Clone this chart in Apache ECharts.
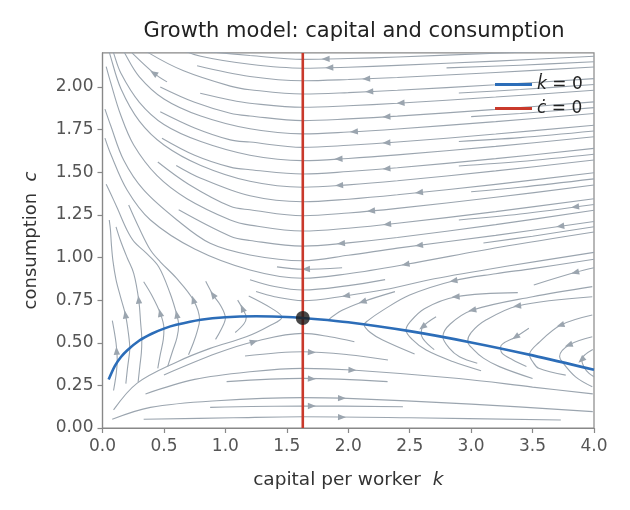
<!DOCTYPE html>
<html>
<head>
<meta charset="utf-8">
<script src="https://cdn.jsdelivr.net/npm/echarts@6/dist/echarts.min.js"></script>
<style>html,body{margin:0;padding:0;background:#fff;}#c{width:630px;height:510px;}</style>
</head>
<body>
<div id="c"></div>
<script>
// ---- tick labels ----
const xTicks = [0, 0.5, 1.0, 1.5, 2.0, 2.5, 3.0, 3.5, 4.0];
const yTicks = [0, 0.25, 0.5, 0.75, 1.0, 1.25, 1.5, 1.75, 2.0];

// ---- k-dot = 0 locus ----
const kdotK = [0.05,0.1,0.15,0.2,0.3,0.4,0.5,0.6,0.8,1.0,1.25,1.5,1.75,2.0,2.5,3.0,3.5,4.0];
const kdotC = [0.284,0.363,0.416,0.455,0.513,0.553,0.583,0.605,0.635,0.65,0.655,0.651,0.638,0.62,0.568,0.502,0.426,0.341];

// ---- c-dot = 0 locus and steady state ----
const kStar = 1.63;
const cStar = 0.645;
const cdotRange = [0, 2.2];

// ---- streamlines (k, c), in flow order ----
const upperLines = [
 [[4,2.222],[3.2,2.198],[2.4,2.176],[2.0,2.167],[1.63,2.162],[1.2,2.185],[0.82,2.21]],
 [[4,2.18],[3.2,2.152],[2.4,2.127],[2.0,2.116],[1.63,2.11],[1.2,2.133],[0.8,2.18],[0.6,2.23]],
 [[4,2.117],[3.2,2.085],[2.4,2.056],[2.0,2.044],[1.63,2.037],[1.2,2.062],[0.77,2.125]],
 [[4,2.049],[3.2,2.013],[2.4,1.981],[2.0,1.967],[1.63,1.959],[1.2,1.984],[1.04,2.005],[0.66,2.095],[0.376,2.2],[0.3,2.25]],
 [[4,1.981],[3.2,1.941],[2.4,1.905],[2.0,1.89],[1.63,1.881],[1.2,1.905],[1.04,1.924],[0.795,1.963]],
 [[4,1.913],[3.2,1.869],[2.4,1.829],[2.0,1.813],[1.63,1.803],[1.2,1.83],[1.04,1.846],[0.75,1.91],[0.47,2.0]],
 [[4,1.845],[3.2,1.797],[2.4,1.754],[2.0,1.736],[1.63,1.725],[1.2,1.755],[0.8,1.83],[0.5,1.93],[0.3,2.06],[0.18,2.2],[0.14,2.26]],
 [[4,1.776],[3.2,1.724],[2.4,1.677],[2.0,1.658],[1.63,1.646],[1.2,1.677],[1.04,1.69],[0.75,1.76],[0.47,1.855]],
 [[4,1.708],[3.2,1.652],[2.4,1.602],[2.0,1.581],[1.63,1.568],[1.2,1.6],[0.8,1.68],[0.5,1.78],[0.3,1.91],[0.15,2.08],[0.09,2.2],[0.07,2.25]],
 [[4,1.64],[3.2,1.58],[2.4,1.526],[2.0,1.504],[1.63,1.49],[1.2,1.515],[1.04,1.53],[0.75,1.6],[0.484,1.7]],
 [[4,1.572],[3.2,1.508],[2.4,1.45],[2.0,1.426],[1.63,1.412],[1.2,1.447],[0.8,1.54],[0.5,1.66],[0.3,1.8],[0.15,1.99],[0.065,2.18],[0.04,2.25]],
 [[4,1.497],[3.2,1.429],[2.4,1.368],[2.0,1.342],[1.63,1.327],[1.2,1.362],[0.8,1.465],[0.6,1.54]],
 [[4,1.425],[3.2,1.353],[2.4,1.288],[2.0,1.261],[1.63,1.245],[1.2,1.28],[1.04,1.30],[0.7,1.43],[0.45,1.56]],
 [[4,1.345],[3.2,1.269],[2.4,1.201],[2.0,1.172],[1.63,1.155],[1.2,1.19],[1.04,1.22],[0.687,1.345],[0.444,1.48],[0.254,1.66],[0.146,1.84],[0.065,2.03],[0.03,2.12]],
 [[4,1.277],[3.2,1.193],[2.4,1.117],[2.0,1.086],[1.63,1.067],[1.2,1.10],[1.04,1.125],[0.62,1.28]],
 [[4,1.211],[3.2,1.13],[2.4,1.055],[2.0,1.013],[1.63,0.981],[1.2,1.015],[0.876,1.083],[0.606,1.22],[0.335,1.396],[0.173,1.57],[0.065,1.777],[0.02,1.87]],
 [[1.95,0.94],[1.63,0.931],[1.42,0.945]],
 [[4,1.15],[3.23,1.06],[2.47,0.96],[2.0,0.905],[1.63,0.878],[1.2,0.927],[0.75,1.05],[0.39,1.22],[0.2,1.396],[0.065,1.61],[0.02,1.7]],
 [[2.3,0.87],[2.0,0.835],[1.63,0.809],[1.4,0.83],[1.2,0.87]],
 [[4,1.03],[3.3,0.95],[2.7,0.875],[2.3,0.812],[1.985,0.776],[1.63,0.747],[1.4,0.77],[1.25,0.80]]
];
const rightLines = [
 [[4,2.148],[3.4,2.128],[2.8,2.112]],
 [[4,2.015],[3.4,1.985],[2.9,1.965]],
 [[4,1.879],[3.4,1.845],[3.0,1.826]],
 [[4,1.742],[3.4,1.703],[2.9,1.68]],
 [[4,1.606],[3.4,1.563],[2.9,1.537]],
 [[4,1.461],[3.4,1.412],[3.0,1.386]],
 [[4,1.311],[3.4,1.255],[2.9,1.22]],
 [[4,1.18],[3.5,1.125],[3.1,1.085]],
 [[4,0.94],[3.85,0.913],[3.51,0.839]]
];
const saddleLines = [
 [[2.38,0.80],[2.12,0.741],[1.95,0.69],[1.84,0.636]],
 [[4,0.99],[3.5,0.935],[3.2,0.905],[2.86,0.864],[2.5,0.78],[2.28,0.69],[2.16,0.63],[2.13,0.606],[2.18,0.56],[2.28,0.516],[2.54,0.434]],
 [[3.38,0.794],[2.878,0.77],[2.62,0.70],[2.5,0.62],[2.47,0.575],[2.52,0.52],[2.634,0.457],[2.85,0.39],[3.081,0.336]],
 [[2.715,0.653],[2.607,0.594],[2.594,0.55],[2.70,0.46]],
 [[3.986,0.829],[3.5,0.77],[3.013,0.692],[2.83,0.61],[2.77,0.535],[2.82,0.47],[2.905,0.418],[3.05,0.38]],
 [[3.986,0.77],[3.378,0.716],[3.12,0.633],[3.0,0.56],[2.972,0.508],[3.02,0.46],[3.1,0.41],[3.23,0.36],[3.5,0.29]],
 [[3.47,0.585],[3.365,0.535],[3.24,0.475],[3.25,0.44],[3.337,0.40],[3.45,0.36]],
 [[3.986,0.663],[3.73,0.604],[3.55,0.5],[3.475,0.43],[3.5,0.39],[3.55,0.35],[3.77,0.31]],
 [[3.986,0.535],[3.797,0.487],[3.72,0.42],[3.74,0.389],[3.85,0.30],[3.986,0.242]],
 [[3.99,0.46],[3.9,0.40],[3.92,0.355],[3.96,0.32],[4.0,0.30]]
];
const lowerLines = [
 [[0.5,0.311],[0.93,0.438],[1.23,0.506],[1.63,0.555],[1.85,0.535],[2.05,0.506]],
 [[1.16,0.422],[1.63,0.447],[2.0,0.43],[2.323,0.399]],
 [[0.35,0.20],[0.75,0.285],[1.2,0.33],[1.63,0.35],[2.03,0.34],[2.9,0.29],[3.5,0.24],[3.99,0.20]],
 [[1.01,0.272],[1.63,0.291],[2.32,0.272]],
 [[0.079,0.051],[0.39,0.121],[0.93,0.16],[1.63,0.178],[1.945,0.175],[3.0,0.14],[3.99,0.096]],
 [[0.876,0.121],[1.63,0.129],[2.445,0.125]],
 [[0.335,0.051],[1.065,0.06],[1.63,0.066],[2.5,0.06],[3.73,0.047]]
];
const leftLines = [
 [[0.09,0.22],[0.112,0.32],[0.12,0.40],[0.11,0.50],[0.08,0.63]],
 [[0.19,0.26],[0.205,0.36],[0.218,0.43],[0.222,0.466],[0.21,0.56],[0.187,0.663],[0.146,0.77],[0.11,0.87],[0.085,0.98],[0.072,1.08],[0.065,1.16],[0.055,1.22]],
 [[0.29,0.27],[0.305,0.37],[0.316,0.44],[0.32,0.515],[0.31,0.62],[0.295,0.75],[0.254,0.907],[0.2,1.0],[0.146,1.10],[0.11,1.18]],
 [[0.45,0.35],[0.47,0.43],[0.495,0.52],[0.50,0.583],[0.47,0.673],[0.40,0.78],[0.335,0.858]],
 [[0.53,0.36],[0.57,0.45],[0.606,0.53],[0.62,0.605],[0.605,0.663],[0.55,0.79],[0.457,0.946],[0.35,1.03],[0.26,1.09],[0.2,1.16],[0.12,1.29],[0.065,1.377],[0.03,1.43]],
 [[0.70,0.43],[0.74,0.50],[0.77,0.565],[0.79,0.634],[0.74,0.75],[0.6,0.88],[0.47,0.975],[0.39,1.044],[0.3,1.17],[0.213,1.308]],
 [[0.92,0.52],[0.96,0.57],[1.0,0.645],[0.96,0.72],[0.90,0.78],[0.84,0.86]],
 [[1.08,0.56],[1.15,0.61],[1.17,0.648],[1.14,0.70],[1.10,0.75]],
 [[0.09,0.106],[0.28,0.262],[0.61,0.389],[0.876,0.467],[1.17,0.535],[1.36,0.60],[1.46,0.65],[1.38,0.70],[1.19,0.774]],
 [[0.525,2.03],[0.42,2.08],[0.24,2.2]]
];
// arrowheads: [group, line index, k, c]
const arrowMarks = [
 ['U',0,1.82,2.164],['U',1,1.85,2.113],['U',2,2.15,2.046],['U',3,2.175,1.972],['U',4,2.43,1.906],
 ['U',5,2.315,1.826],['U',6,2.05,1.738],['U',7,2.315,1.672],['U',8,1.925,1.578],['U',9,2.315,1.522],
 ['U',10,1.93,1.422],['U',11,2.58,1.38],['U',12,2.19,1.27],['U',13,2.32,1.197],['U',14,1.945,1.083],
 ['U',15,2.58,1.07],['U',15,3.73,1.18],['U',16,1.66,0.931],['U',17,2.47,0.96],['U',19,1.985,0.776],
 ['R',6,3.85,1.297],['R',8,3.85,0.913],
 ['V',0,2.12,0.741],['V',1,2.86,0.864],['V',2,2.878,0.77],['V',3,2.607,0.594],['V',4,3.013,0.692],
 ['V',5,3.378,0.716],['V',6,3.365,0.535],['V',7,3.73,0.604],['V',8,3.797,0.487],['V',9,3.9,0.40],
 ['B',0,1.228,0.506],['B',1,1.70,0.447],['B',2,2.03,0.34],['B',3,1.70,0.291],['B',4,1.945,0.177],
 ['B',5,1.70,0.129],['B',6,1.945,0.066],
 ['L',0,0.115,0.45],['L',1,0.187,0.663],['L',2,0.295,0.75],['L',3,0.47,0.673],['L',4,0.605,0.663],
 ['L',5,0.74,0.75],['L',6,0.90,0.78],['L',7,1.14,0.70],['L',9,0.42,2.08]
];

// ---- build ----
const GRAY = '#9ba5af', BLUE = '#2c6db8', RED = '#c9392b', AX = '#888888', TXT = '#555555';
const FONT = 'DejaVu Sans';
const allLines = [].concat(upperLines, rightLines, saddleLines, lowerLines, leftLines);
const offs = {U:0};
offs.R = offs.U + upperLines.length;
offs.V = offs.R + rightLines.length;
offs.B = offs.V + saddleLines.length;
offs.L = offs.B + lowerLines.length;

const streamSeries = allLines.map(pts => ({
  type:'line', data: pts, symbol:'none', showSymbol:false, smooth:0.35, silent:true, clip:true,
  lineStyle:{color:GRAY, width:1.1}, z:1, legendHoverLink:false
}));

function renderArrow(params, api){
  const li = api.value(2);
  const pts = allLines[li];
  const p = api.coord([api.value(0), api.value(1)]);
  let best = null;
  for (let i=0;i<pts.length-1;i++){
    const a = api.coord(pts[i]), b = api.coord(pts[i+1]);
    const dx=b[0]-a[0], dy=b[1]-a[1]; const L2=dx*dx+dy*dy;
    if (L2===0) continue;
    let t=((p[0]-a[0])*dx+(p[1]-a[1])*dy)/L2; t=Math.max(0,Math.min(1,t));
    const q=[a[0]+t*dx,a[1]+t*dy]; const d=(q[0]-p[0])**2+(q[1]-p[1])**2;
    if(!best||d<best.d) best={d:d,q:q,dx:dx,dy:dy};
  }
  const len=Math.hypot(best.dx,best.dy), ux=best.dx/len, uy=best.dy/len, q=best.q;
  const tip=[q[0]+ux*4.5,q[1]+uy*4.5], bk=[q[0]-ux*3.5,q[1]-uy*3.5];
  const nx=-uy, ny=ux, w=3.2;
  return {type:'polygon', shape:{points:[tip,[bk[0]+nx*w,bk[1]+ny*w],[bk[0]-nx*w,bk[1]-ny*w]]},
          style:{fill:GRAY}};
}

const K_NAME = 'k\u0307 = 0', C_NAME = 'c\u0307 = 0';
const chart = echarts.init(document.getElementById('c'), null, {renderer:'canvas'});
chart.setOption({
  animation:false,
  backgroundColor:'#ffffff',
  textStyle:{fontFamily:FONT},
  title:{text:'Growth model: capital and consumption', left:349, top:16, textAlign:'center',
         textStyle:{fontFamily:FONT, fontSize:21, fontWeight:'normal', color:'#222'}},
  grid:{left:102.5, right:36, top:52.9, bottom:82, show:true, borderColor:AX, borderWidth:1.2, outerBoundsMode:'none'},
  legend:{show:true, orient:'vertical', left:490, top:71, itemWidth:37, itemHeight:3, itemGap:7, icon:'rect',
          data:[K_NAME, C_NAME], selectedMode:false,
          formatter: n => (n===K_NAME ? '{i|k\u0307} = 0' : '{i|c\u0307} = 0'),
          textStyle:{fontFamily:FONT, fontSize:17, color:'#222', rich:{i:{fontStyle:'italic', fontFamily:FONT, fontSize:17, color:'#222'}}}},
  xAxis:{type:'value', min:0, max:4, interval:0.5,
    name:'capital per worker  {i|k}', nameLocation:'middle', nameGap:43,
    nameTextStyle:{fontFamily:FONT, fontSize:18.5, color:'#333', rich:{i:{fontStyle:'italic', fontFamily:FONT, fontSize:18.5, color:'#333'}}},
    axisLine:{show:true, lineStyle:{color:AX, width:1.2}},
    axisTick:{show:true, length:5, inside:false, lineStyle:{color:AX, width:1.2}, customValues:xTicks},
    axisLabel:{fontFamily:FONT, fontSize:17, color:TXT, margin:10, customValues:xTicks, formatter:v=>v.toFixed(1)},
    splitLine:{show:false}},
  yAxis:{type:'value', min:0, max:2.2, interval:0.25,
    name:'consumption  {i|c}', nameLocation:'middle', nameGap:62, nameRotate:90,
    nameTextStyle:{fontFamily:FONT, fontSize:18, color:'#333', rich:{i:{fontStyle:'italic', fontFamily:FONT, fontSize:18, color:'#333'}}},
    axisLine:{show:true, lineStyle:{color:AX, width:1.2}},
    axisTick:{show:true, length:5, inside:false, lineStyle:{color:AX, width:1.2}, customValues:yTicks},
    axisLabel:{fontFamily:FONT, fontSize:17, color:TXT, margin:9, customValues:yTicks, formatter:v=>v.toFixed(2)},
    splitLine:{show:false}},
  series: streamSeries.concat([
    {type:'custom', name:'arrows', renderItem:renderArrow, clip:true, silent:true, z:2,
     data: arrowMarks.map(a=>[a[2], a[3], offs[a[0]]+a[1]]), encode:{x:0,y:1}},
    {type:'line', name:C_NAME, data: cdotRange.map(c=>[kStar,c]), symbol:'none', showSymbol:false,
     lineStyle:{color:RED, width:2.6}, itemStyle:{color:RED}, z:3, silent:true},
    {type:'line', name:K_NAME, data: kdotK.map((k,i)=>[k,kdotC[i]]), symbol:'none', showSymbol:false, smooth:0.3,
     lineStyle:{color:BLUE, width:2.6}, itemStyle:{color:BLUE}, z:4, silent:true},
    {type:'scatter', data:[[kStar,cStar]], symbol:'circle', symbolSize:14, itemStyle:{color:'#1a1a1a'}, z:5, silent:true}
  ])
});
</script>
</body>
</html>
